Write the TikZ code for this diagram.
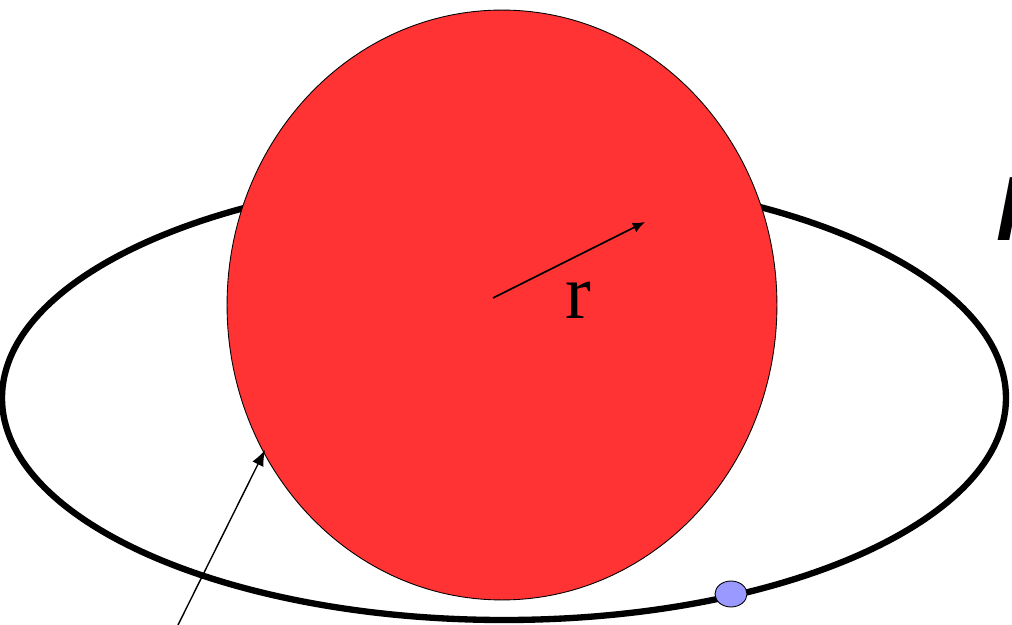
\documentclass[tikz,border=0pt]{standalone}
\usepackage{fontspec}
\setmainfont{Liberation Serif}
\setsansfont{Liberation Sans}
\usepackage{tikz}
\usetikzlibrary{arrows.meta,positioning,shapes.geometric}
\definecolor{sunred}{RGB}{255,51,51}
\definecolor{planetblue}{RGB}{153,153,255}

\begin{document}
\begin{tikzpicture}[x=0.02cm,y=-0.02cm,
  orbit/.style={draw=black,line width=3.6pt},
  body/.style={ellipse,draw=black,line width=0.5pt,inner sep=0pt},
  radius arrow/.style={-{Latex[length=7pt,width=6pt]},line width=1pt}]
\useasboundingbox (0,0) rectangle (1012,625);
% orbit of the planet
\draw[orbit] (504,398) ellipse [x radius=502, y radius=222];
% the star
\node[body,fill=sunred,minimum width=11cm,minimum height=11.8cm] (star) at (502,305) {};
\coordinate (centre) at (493,298);
\coordinate (rtip) at (645,222);
\draw[radius arrow] (centre) -- (rtip);
\node[font=\fontsize{44}{52}\selectfont] (rlabel) at (578,300) {r};
% the planet
\node[body,fill=planetblue,minimum width=0.64cm,minimum height=0.52cm] (planet) at (731,594) {};
% pointer to the surface of the star
\coordinate (tail) at (178,625);
\coordinate (surface) at (265,450);
\draw[-{Latex[length=9pt,width=7pt]},line width=0.8pt] (tail) -- (surface);
% letter cut off at the right edge
\node[font=\fontsize{52}{60}\selectfont\sffamily\bfseries\itshape,anchor=base west,inner sep=0pt] (cut) at (996,240) {M};
\end{tikzpicture}
\end{document}
